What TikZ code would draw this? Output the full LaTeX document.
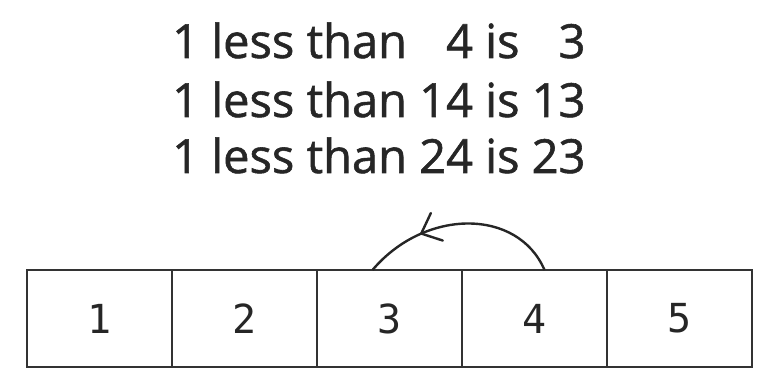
\documentclass[tikz,border=0pt]{standalone}
\usepackage{fontspec}
\setmainfont{Open Sans}
\newfontfamily\titlefont[FakeBold=1.2]{Open Sans}
\newfontfamily\cellfont{DejaVu Sans Mono}
\usetikzlibrary{calc,decorations.markings}
\begin{document}
\begin{tikzpicture}[x=1pt,y=-1pt,
  cellbox/.style={draw=black!80,line width=2.4pt,minimum width=145pt,minimum height=97pt,inner sep=0pt,outer sep=0pt,font=\cellfont\fontsize{40}{46}\selectfont,text=black!85},
  titleline/.style={anchor=base west,inner sep=0pt,font=\titlefont\fontsize{47}{54}\selectfont,text=black!85},
  hop/.style={line width=2.4pt,draw=black!85,postaction={decorate},decoration={markings,mark=at position 0.7 with {\draw[line width=2.4pt,line cap=round,line join=round,draw=black!85] (-17pt,15pt) -- (0pt,0pt) -- (-17pt,-15pt);}}}]
\useasboundingbox (0,0) rectangle (763,382);
\node[titleline] (t1) at (172,58) {1 less than \phantom{1}4 is \phantom{1}3};
\node[titleline] (t2) at (172,117) {1 less than 14 is 13};
\node[titleline] (t3) at (172,173) {1 less than 24 is 23};
\foreach \i in {1,...,5}{
  \node[cellbox] (c\i) at ({27+72.5+145*(\i-1)},318.5) {\i};
}
\draw[hop] ([xshift=10pt]c4.north) .. controls (518,208) and (425,208) .. ([xshift=-17pt]c3.north);
\end{tikzpicture}
\end{document}
